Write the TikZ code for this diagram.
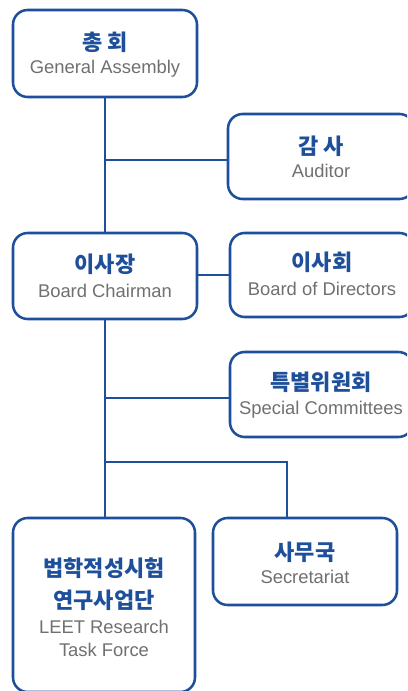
\documentclass[tikz,border=0pt]{standalone}
\usepackage{fontspec}
\setmainfont{Liberation Sans}
\newfontfamily\krfont{Noto Sans CJK KR}
\definecolor{orgblue}{HTML}{1D4F9B}
\definecolor{txtgray}{HTML}{707070}
\begin{document}
\begin{tikzpicture}[x=0.75pt,y=-0.75pt,
  box/.style={draw=orgblue, line width=1.9pt, rounded corners=11pt, rectangle, inner sep=0pt, fill=white},
  conn/.style={draw=orgblue, line width=1.9pt},
  kr/.style={inner sep=0pt, anchor=center, text=orgblue, font=\krfont\bfseries\fontsize{16.5pt}{20pt}\selectfont},
  en/.style={inner sep=0pt, anchor=base, text=txtgray, font=\fontsize{13.8pt}{16pt}\selectfont}]
\clip (0,0) rectangle (407,691);
% boxes
\node[box, minimum width=138pt, minimum height=65.25pt] (ga) at (105,53.5) {};
\node[box, minimum width=139.5pt, minimum height=63.75pt] (aud) at (321,156.5) {};
\node[box, minimum width=138pt, minimum height=64.5pt] (ch) at (105,276) {};
\node[box, minimum width=138pt, minimum height=63pt] (bod) at (322,275) {};
\node[box, minimum width=137.25pt, minimum height=63.75pt] (sc) at (321.5,394.5) {};
\node[box, minimum width=138pt, minimum height=65.25pt] (sec) at (305,561.5) {};
\node[box, minimum width=136.5pt, minimum height=130.5pt] (leet) at (104,605) {};
% junctions
\coordinate (j1) at (105,160);
\coordinate (j2) at (105,398);
\coordinate (j3) at (105,462);
\coordinate (j4) at (287,462);
% connectors
\draw[conn] (ga.south) -- (ch.north);
\draw[conn] (j1) -- (aud.west |- j1);
\draw[conn] (ch.east |- bod.west) -- (bod.west);
\draw[conn] (ch.south) -- (leet.north -| ch.south);
\draw[conn] (j2) -- (sc.west |- j2);
\draw[conn] (j3) -- (j4) -- (j4 |- sec.north);
% texts
\node[kr] (gak) at (105,42.5) {총 회};
\node[en] (gae) at (105,74) {General Assembly};
\node[kr] (audk) at (321,146) {감 사};
\node[en] (aude) at (321,177.3) {Auditor};
\node[kr] (chk) at (105,264) {이사장};
\node[en] (che) at (105,297.3) {Board Chairman};
\node[kr] (bodk) at (322,262.5) {이사회};
\node[en] (bode) at (322,295) {Board of Directors};
\node[kr] (sck) at (321,382.5) {특별위원회};
\node[en] (sce) at (321,414) {Special Committees};
\node[kr] (seck) at (305,552.5) {사무국};
\node[en] (sece) at (305,583.3) {Secretariat};
\node[kr] (leetk1) at (104,568) {법학적성시험};
\node[kr] (leetk2) at (104,600) {연구사업단};
\node[en] (leete1) at (104,633) {LEET Research};
\node[en] (leete2) at (104,656.7) {Task Force};
\end{tikzpicture}
\end{document}
